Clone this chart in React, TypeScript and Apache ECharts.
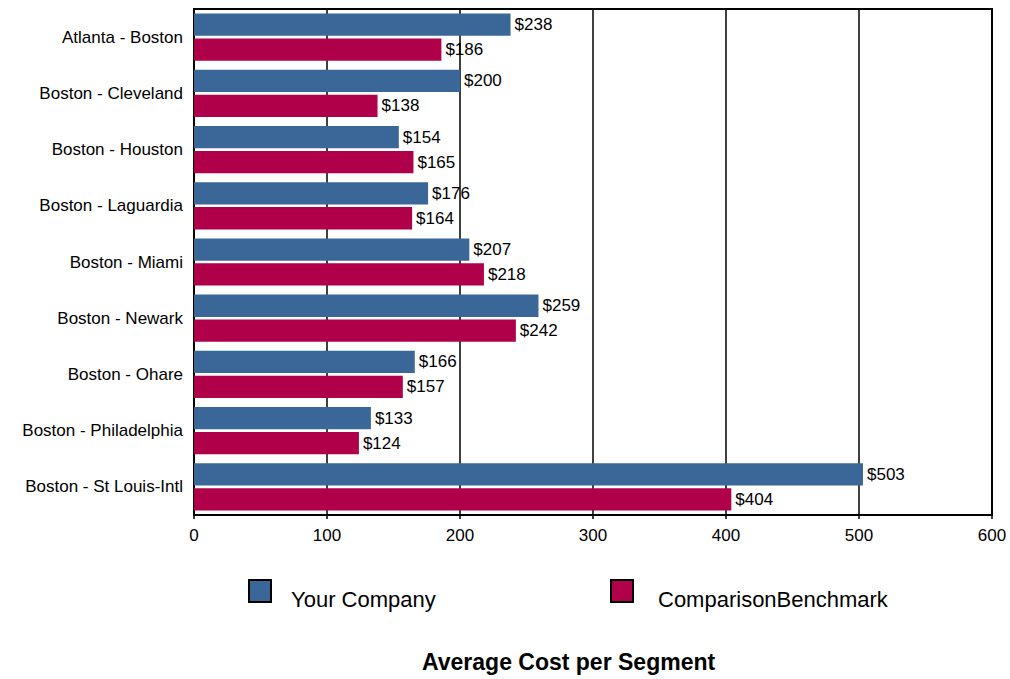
import React, { useEffect, useRef } from "react";
import * as echarts from "echarts";

const categories = [
  "Atlanta - Boston",
  "Boston - Cleveland",
  "Boston - Houston",
  "Boston - Laguardia",
  "Boston - Miami",
  "Boston - Newark",
  "Boston - Ohare",
  "Boston - Philadelphia",
  "Boston - St Louis-Intl",
];
const yourCompany = [238, 200, 154, 176, 207, 259, 166, 133, 503];
const benchmark = [186, 138, 165, 164, 218, 242, 157, 124, 404];
const seriesNames = ["Your Company", "ComparisonBenchmark"];
const colors = ["#3B6698", "#B0004A"];

export default function App() {
  const ref = useRef<HTMLDivElement>(null);
  useEffect(() => {
    const chart = echarts.init(ref.current!, null, { renderer: "svg" });
    const font = "Liberation Sans, Arial, sans-serif";
    const label = {
      show: true,
      position: "right",
      distance: 4,
      color: "#000",
      fontSize: 17,
      fontFamily: font,
      formatter: (p: any) => "$" + p.value,
    };
    const legendBase = {
      top: 574,
      itemWidth: 22,
      itemHeight: 22,
      icon: "rect",
      itemStyle: { borderColor: "#000", borderWidth: 2 },
      formatter: (name: string) => `{t|${name}}`,
    };
    chart.setOption({
      animation: false,
      title: {
        text: "Average Cost per Segment",
        left: 417,
        top: 645,
        textStyle: { fontSize: 23, fontWeight: "bold", color: "#000", fontFamily: font },
      },
      legend: [
        {
          ...legendBase,
          data: [seriesNames[0]],
          left: 243,
          textStyle: {
            rich: { t: { fontSize: 22, color: "#000", fontFamily: font, padding: [16, 0, 0, 15] } },
          },
        },
        {
          ...legendBase,
          data: [seriesNames[1]],
          left: 605,
          textStyle: {
            rich: { t: { fontSize: 22, color: "#000", fontFamily: font, padding: [16, 0, 0, 20] } },
          },
        },
      ],
      grid: { left: 194, right: 18, top: 9, bottom: 164, containLabel: false, show: true, borderColor: "#000", borderWidth: 2 },
      xAxis: {
        type: "value",
        min: 0,
        max: 600,
        interval: 100,
        axisLine: { show: true, lineStyle: { color: "#000", width: 2 } },
        axisTick: { show: true, length: 4, lineStyle: { color: "#000", width: 1.5 } },
        axisLabel: { color: "#000", fontSize: 17, fontFamily: font, margin: 12 },
        splitLine: { show: true, lineStyle: { color: "#000", width: 1.5 } },
      },
      yAxis: {
        type: "category",
        data: categories,
        inverse: true,
        axisLine: { show: true, lineStyle: { color: "#000", width: 2 } },
        axisTick: { show: false },
        axisLabel: { color: "#000", fontSize: 17, fontFamily: font, margin: 11 },
      },
      series: [
        {
          name: seriesNames[0],
          type: "bar",
          data: yourCompany,
          itemStyle: { color: colors[0] },
          barGap: "12%",
          barCategoryGap: "16%",
          label,
        },
        {
          name: seriesNames[1],
          type: "bar",
          data: benchmark,
          itemStyle: { color: colors[1] },
          barGap: "12%",
          barCategoryGap: "16%",
          label,
        },
      ],
    });
    return () => chart.dispose();
  }, []);
  return <div ref={ref} style={{ width: 1010, height: 679, position: "absolute", left: 0, top: 0 }} />;
}
